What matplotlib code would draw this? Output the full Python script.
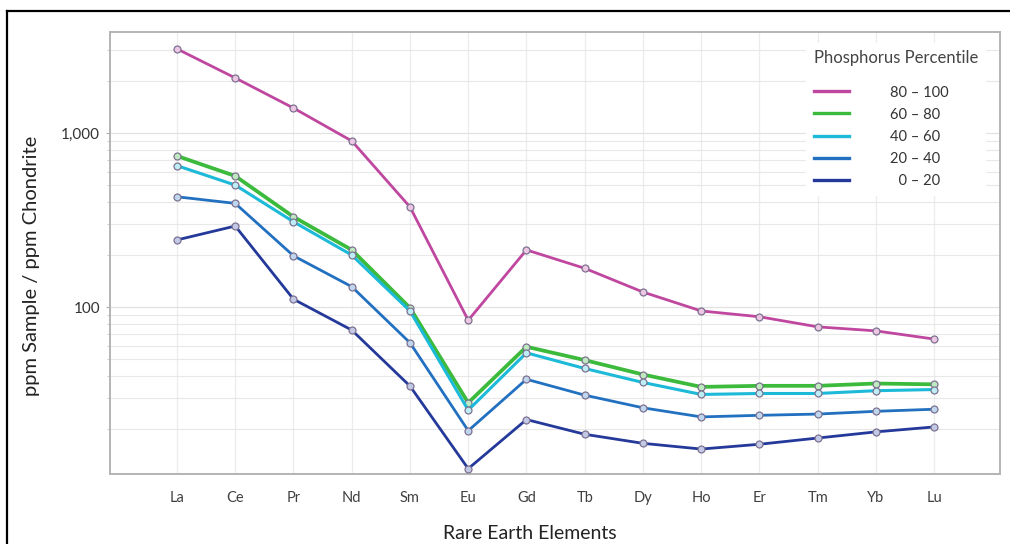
import matplotlib
matplotlib.use("Agg")
import matplotlib.pyplot as plt
from matplotlib.lines import Line2D
from matplotlib.ticker import FixedLocator, LogLocator, NullFormatter, FuncFormatter

plt.rcParams['font.family'] = ['Lato', 'DejaVu Sans']

elements = ["La", "Ce", "Pr", "Nd", "Sm", "Eu", "Gd", "Tb", "Dy", "Ho", "Er", "Tm", "Yb", "Lu"]

p80_100 = [3040, 2070, 1390, 900, 376, 84, 213, 167, 122, 95, 88, 77, 73, 65.5]
p60_80 = [738, 566, 330, 213, 99, 28.2, 59.2, 49.6, 41, 34.8, 35.3, 35.3, 36.4, 36]
p40_60 = [649, 502, 309, 199, 95, 25.6, 54.6, 44.4, 36.9, 31.5, 31.9, 31.9, 33.1, 33.6]
p20_40 = [430, 394, 197, 131, 62.4, 19.5, 38.5, 31.2, 26.4, 23.4, 23.9, 24.3, 25.2, 25.9]
p0_20 = [243, 292, 111, 73.8, 35.2, 11.8, 22.6, 18.6, 16.5, 15.3, 16.3, 17.7, 19.2, 20.5]

series_labels = ["80 \u2013 100", "60 \u2013 80", "40 \u2013 60", "20 \u2013 40", "\u20070 \u2013 20"]
series_values = [p80_100, p60_80, p40_60, p20_40, p0_20]
series_colors = ["#c0479f", "#3cba3c", "#1cbad8", "#2270c0", "#24399a"]
series_widths = [2.0, 2.7, 2.2, 2.0, 2.0]
marker_fill = ["#ecc6e3", "#bfeabf", "#bdeef6", "#bfd6ef", "#c2c9e6"]

fig = plt.figure(figsize=(10.10, 5.44), dpi=100)
ax = fig.add_axes([110 / 1010, 70 / 544, 890 / 1010, 442 / 544])

x = list(range(len(elements)))
for vals, lab, col, lw, mf in zip(series_values, series_labels, series_colors, series_widths, marker_fill):
    ax.plot(x, vals, color=col, lw=lw, label=lab, marker="o", ms=5.0,
            mfc=mf, mec="#7d7290", mew=0.9, solid_joinstyle="round", zorder=3)

ax.set_yscale("log")
ax.set_ylim(11.0, 3800)
ax.set_xlim(-1.15, 14.13)

ax.set_xticks(x)
ax.set_xticklabels(elements)
ax.yaxis.set_major_locator(FixedLocator([100, 1000]))
ax.yaxis.set_major_formatter(FuncFormatter(lambda v, p: f"{int(v):,}"))
ax.yaxis.set_minor_locator(LogLocator(base=10, subs=range(2, 10)))
ax.yaxis.set_minor_formatter(NullFormatter())

ax.grid(True, which="major", axis="x", color="#ececec", lw=0.9, zorder=0)
ax.grid(True, which="major", axis="y", color="#e2e2e2", lw=0.9, zorder=0)
ax.grid(True, which="minor", axis="y", color="#e8e8e8", lw=0.8, zorder=0)
ax.set_axisbelow(True)

ax.tick_params(axis="x", length=0, pad=12, labelsize=10.5, labelcolor="#404040")
ax.tick_params(axis="y", which="major", length=3, color="#b0b0b0", pad=4, labelsize=11, labelcolor="#333333")
ax.tick_params(axis="y", which="minor", length=2, color="#c8c8c8")

for s in ax.spines.values():
    s.set_color("#b4b4b4")
    s.set_linewidth(1.4)

ax.set_ylabel("ppm Sample / ppm Chondrite", fontsize=14.5, color="#222222")
ax.yaxis.set_label_coords(-70 / 890, 208 / 442)
ax.set_xlabel("Rare Earth Elements", fontsize=14, color="#222222")
ax.xaxis.set_label_coords(420 / 890, -51 / 442)

leg = ax.legend(title="Phosphorus Percentile", loc="upper left",
                bbox_to_anchor=(689 / 890, 0.992), frameon=True, framealpha=1.0,
                edgecolor="white", facecolor="white", fontsize=10.5,
                title_fontsize=12, handlelength=2.45, handletextpad=2.8,
                labelspacing=0.55, borderpad=0.5)
leg._legend_box.align = "left"
leg._legend_box.sep = 14
leg.get_title().set_color("#444444")
for t in leg.get_texts():
    t.set_color("#333333")
for h in leg.legend_handles:
    h.set_marker("")
    h.set_linewidth(2.4)

# outer frame on the left and top
fig.add_artist(Line2D([7 / 1010, 7 / 1010], [0, 1 - 11 / 544], color="black", lw=1.6, transform=fig.transFigure))
fig.add_artist(Line2D([7 / 1010, 1.0], [1 - 11 / 544, 1 - 11 / 544], color="black", lw=1.6, transform=fig.transFigure))

fig.savefig("out.png", dpi=100)
